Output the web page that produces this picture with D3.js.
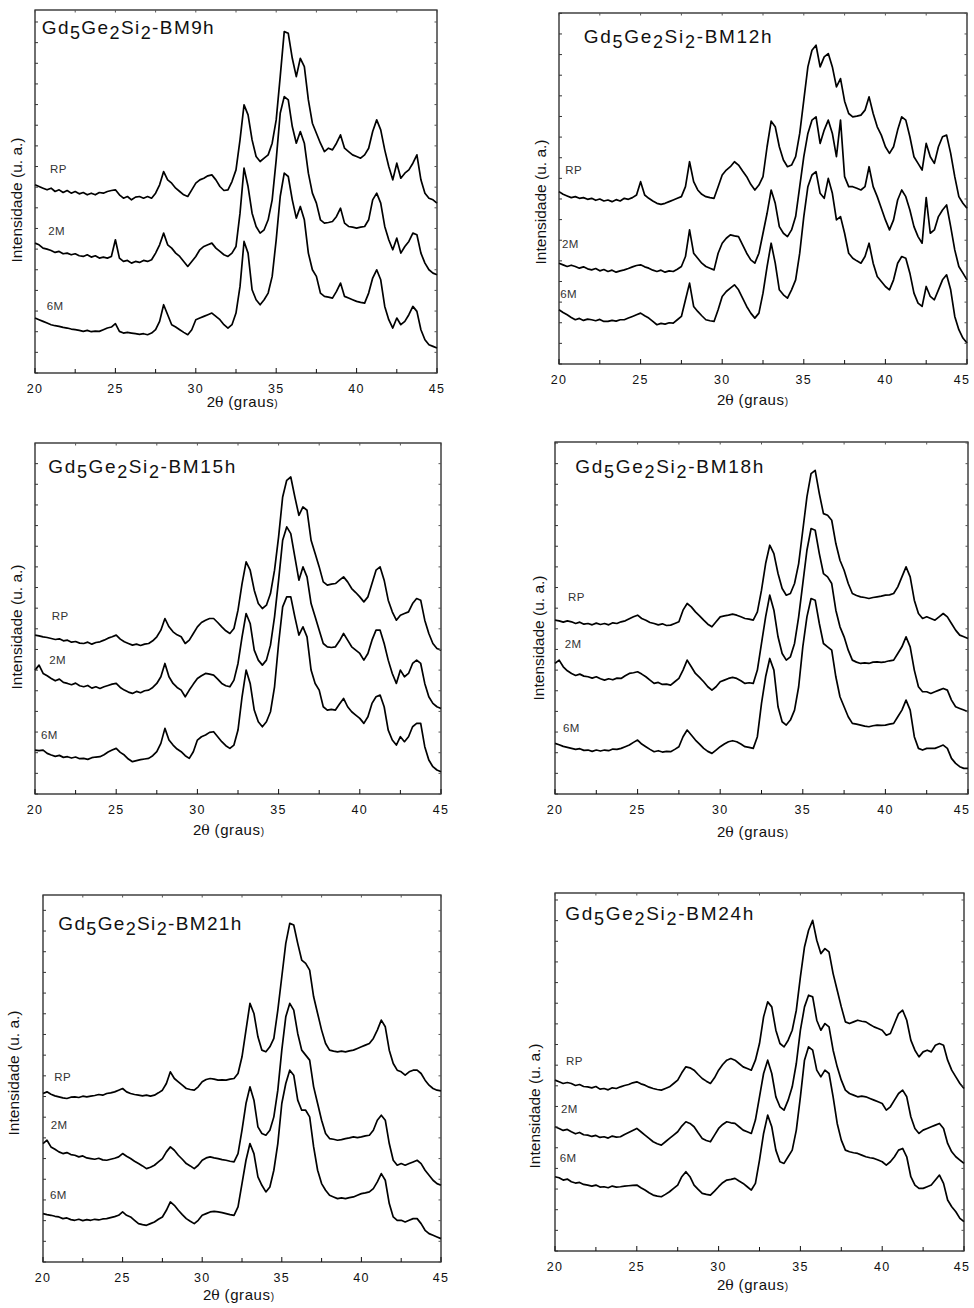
<!DOCTYPE html>
<html><head><meta charset="utf-8">
<script src="https://cdn.jsdelivr.net/npm/d3@7"></script>
<style>body{margin:0;background:#fff}svg{display:block}text{font-family:"Liberation Sans",Arial,sans-serif}</style>
</head><body>
<script>
const theta = [20,20.25,20.5,20.75,21,21.25,21.5,21.75,22,22.25,22.5,22.75,23,23.25,23.5,23.75,24,24.25,24.5,24.75,
25,25.25,25.5,25.75,26,26.25,26.5,26.75,27,27.25,27.5,27.75,28,28.25,28.5,28.75,29,29.25,29.5,29.75,
30,30.25,30.5,30.75,31,31.25,31.5,31.75,32,32.25,32.5,32.75,33,33.25,33.5,33.75,34,34.25,34.5,34.75,
35,35.25,35.5,35.75,36,36.25,36.5,36.75,37,37.25,37.5,37.75,38,38.25,38.5,38.75,39,39.25,39.5,39.75,
40,40.25,40.5,40.75,41,41.25,41.5,41.75,42,42.25,42.5,42.75,43,43.25,43.5,43.75,44,44.25,44.5,44.75,45];
const sampleNames = ["RP","2M","6M"];
const millingTimes = ["9h","12h","15h","18h","21h","24h"];
const yMaxCounts = [1090,1055,1054,1057,1100,1075];
const xTicks = [20,25,30,35,40,45];
const xMinorTicks = [20,22.5,25,27.5,30,32.5,35,37.5,40,42.5,45];

const bm9h_RP = [565,560,555,550,555,545,550,542,548,540,545,538,542,535,540,535,542,540,545,548,
550,535,525,530,520,528,530,525,530,525,540,565,605,580,570,555,545,535,530,550,
570,580,585,592,595,580,560,548,550,575,610,700,805,775,700,650,635,645,655,690,
760,890,1025,1020,945,890,945,920,820,750,720,690,665,675,670,690,715,675,665,655,
650,645,655,675,725,760,730,670,620,580,630,585,600,610,630,655,580,540,525,520,510];
const bm9h_2M = [390,385,375,372,368,362,365,358,360,355,358,352,350,355,348,352,345,348,345,350,
400,345,335,338,330,335,332,338,335,340,360,385,420,385,375,360,350,335,320,335,
350,370,380,385,390,375,365,355,350,360,380,480,615,560,480,440,420,430,460,520,
640,780,830,820,740,690,725,690,600,540,510,460,450,452,455,470,495,450,440,438,
435,438,440,460,520,540,510,440,400,370,405,360,380,395,420,415,360,330,310,300,295];
const bm9h_6M = [165,160,155,150,145,142,140,137,135,132,130,128,125,128,124,126,125,130,135,138,
148,125,120,122,120,118,116,118,115,120,130,155,205,175,145,138,130,122,115,130,
160,165,170,175,180,170,160,145,135,145,180,260,395,360,250,220,205,220,240,290,
400,530,600,590,520,465,500,460,360,310,290,240,230,228,225,245,270,230,225,220,
215,212,210,240,285,310,280,200,160,135,165,145,155,175,200,185,130,100,85,80,75];

const bm12h_RP = [518,510,505,500,503,498,500,495,498,492,496,490,493,488,494,490,498,495,500,508,
548,508,498,490,483,480,483,488,493,498,503,533,608,548,523,510,503,500,498,533,
568,583,593,608,598,580,563,540,523,538,563,653,730,713,653,613,593,598,623,693,
793,893,943,958,893,923,933,893,833,858,790,753,743,745,748,763,803,753,713,688,
653,633,653,703,743,733,683,623,603,583,663,623,603,653,683,688,633,563,503,483,468];
const bm12h_2M = [303,298,293,297,293,288,292,286,283,287,280,284,278,282,276,280,283,287,292,296,
298,292,288,282,278,282,276,280,278,285,293,323,403,333,318,303,293,288,283,333,
363,378,388,385,383,358,333,313,303,333,393,453,523,483,413,393,383,403,443,533,
623,693,733,743,663,703,733,693,623,733,563,533,533,528,523,533,593,533,503,468,
433,403,433,493,523,503,463,413,383,363,500,393,403,443,463,478,413,343,293,273,253];
const bm12h_6M = [163,155,148,140,133,137,131,135,133,130,134,128,128,131,129,133,133,138,143,148,
153,145,138,128,118,122,120,124,123,133,143,193,243,173,158,145,133,130,128,163,
203,218,228,238,223,198,173,153,138,153,213,293,363,303,223,208,198,223,253,333,
443,533,568,578,513,498,558,513,433,443,393,333,318,310,303,323,363,303,263,248,
233,223,253,303,323,318,273,213,183,173,233,203,193,223,253,268,223,143,103,78,63];

const bm15h_RP = [477,475,472,470,467,464,466,460,462,456,458,453,452,456,450,455,457,462,468,472,
477,465,457,452,447,450,446,450,452,460,472,492,527,502,487,478,472,452,462,482,
502,515,522,527,527,515,502,490,482,497,552,632,697,672,612,572,557,567,602,672,
772,892,942,952,892,837,862,852,762,722,682,637,627,630,632,642,652,637,617,605,
592,577,592,632,672,682,642,582,547,522,537,542,547,572,587,582,522,482,452,437,432];
const bm15h_2M = [372,387,362,355,347,340,345,335,332,328,333,325,322,326,318,322,317,322,326,330,
332,320,312,306,302,308,304,310,312,320,332,352,392,352,332,320,312,292,312,330,
347,355,362,360,357,345,332,325,322,342,392,472,542,512,432,402,387,402,447,532,
642,762,802,782,712,642,682,652,572,532,492,452,442,440,442,460,482,462,442,432,
422,402,422,462,492,492,452,402,362,332,372,352,362,392,402,392,332,292,272,262,257];
const bm15h_6M = [132,130,132,122,117,113,116,110,112,108,111,106,107,104,109,111,112,118,126,132,
137,125,117,105,97,100,103,105,107,115,127,152,197,162,147,135,127,115,107,127,
162,172,177,185,187,172,157,145,137,147,192,292,372,332,252,217,202,217,247,322,
452,562,592,592,532,477,502,472,372,332,312,262,252,254,252,270,287,262,247,237,
227,212,232,272,292,297,262,192,162,147,172,157,172,202,212,212,142,102,82,72,67];

const bm18h_RP = [522,520,516,520,517,512,516,510,512,508,513,509,512,508,514,512,517,520,526,532,
537,527,522,515,512,508,511,506,507,512,517,552,572,562,547,535,522,510,502,517,
532,535,537,540,537,532,527,525,522,547,612,692,747,722,662,617,597,602,632,692,
792,892,962,972,902,842,837,822,752,702,672,632,602,596,592,590,587,590,592,594,
597,598,602,622,652,682,652,582,542,527,532,527,522,532,542,532,512,492,477,472,467];
const bm18h_2M = [392,402,382,370,362,356,360,354,352,348,352,346,342,346,343,348,347,355,362,364,
367,360,352,342,332,335,329,330,327,337,347,372,402,382,362,350,337,322,312,322,
337,342,347,350,347,340,332,334,332,372,452,532,597,552,472,422,402,412,452,532,
632,732,797,792,722,662,652,632,552,502,472,432,402,396,392,394,392,396,397,395,
397,400,402,422,442,472,442,372,322,307,307,302,307,312,317,312,282,262,257,252,247];
const bm18h_6M = [152,148,143,140,137,134,136,131,132,128,132,129,132,130,135,134,137,142,147,155,
162,150,142,134,127,130,126,128,127,134,142,172,192,177,162,150,137,128,122,132,
142,150,157,160,157,150,142,140,137,172,272,352,407,372,262,217,207,222,252,322,
442,532,587,582,512,452,442,432,352,292,262,232,212,210,207,204,202,205,207,206,
207,210,212,232,252,282,252,172,137,132,137,137,137,142,147,137,107,92,82,77,77];

const bm21h_RP = [505,510,503,498,495,492,490,494,495,493,497,495,497,499,502,500,505,507,510,515,
520,510,505,502,500,498,500,497,500,507,515,535,570,550,540,530,520,517,515,525,
540,547,550,548,545,546,545,548,550,565,615,695,775,745,675,635,630,645,670,755,
855,955,1015,1010,955,905,895,875,795,745,695,655,635,632,630,632,630,633,635,640,
645,650,655,670,695,725,705,635,595,575,570,560,570,575,575,565,545,530,520,515,513];
const bm21h_2M = [355,365,345,338,330,325,328,322,320,315,318,312,310,308,311,306,305,308,311,315,
325,317,310,302,295,288,280,284,290,300,310,330,345,335,320,308,295,288,280,290,
305,312,315,312,310,307,305,302,300,325,395,475,525,485,405,385,380,395,435,515,
635,735,775,755,685,635,620,605,525,475,425,385,370,368,365,367,370,372,375,373,
375,378,380,395,425,440,425,355,305,290,295,290,295,300,305,295,275,260,245,235,230];
const bm21h_6M = [145,142,140,137,135,130,132,127,125,128,124,127,125,128,126,129,130,133,136,140,
150,140,135,125,115,112,110,115,120,128,135,155,180,170,155,142,130,122,115,125,
140,145,150,152,150,148,145,142,140,165,235,305,355,325,255,230,210,225,275,355,
475,535,575,560,485,455,455,435,345,275,235,215,200,195,190,192,190,193,195,200,
205,207,210,220,240,265,245,175,135,125,125,120,125,130,130,115,95,85,80,75,70];

const bm24h_RP = [513,508,503,506,503,497,500,494,493,490,494,486,488,484,490,488,493,497,500,505,
508,502,498,492,488,485,483,488,493,503,513,535,553,550,543,530,518,510,503,520,
543,560,573,578,573,563,553,548,543,573,623,703,748,733,663,623,613,633,663,723,
823,913,963,993,933,893,908,898,833,783,733,688,683,688,693,690,688,680,673,668,
663,648,653,683,713,723,693,633,603,583,598,603,598,618,623,618,573,543,523,503,488];
const bm24h_2M = [373,368,362,365,358,352,356,349,348,344,347,341,343,339,345,342,343,350,356,362,
368,358,348,338,328,322,318,328,338,348,358,375,388,383,373,355,338,332,328,348,
368,380,388,385,383,373,363,358,353,393,463,533,573,533,463,433,423,453,493,563,
663,733,768,763,693,663,683,673,603,553,513,483,473,468,463,465,463,458,453,448,
443,423,433,453,473,483,463,403,368,353,363,368,373,378,383,368,323,298,283,273,263];
const bm24h_6M = [223,220,213,216,208,204,206,200,198,195,198,192,193,190,195,192,193,195,196,197,
198,190,183,175,168,165,163,170,178,188,198,223,238,223,198,185,173,170,168,180,
193,205,213,215,218,210,203,193,183,203,273,353,408,373,303,268,263,283,303,363,
463,573,613,603,543,523,543,533,463,383,333,303,298,295,293,288,283,280,278,273,
268,258,268,283,303,308,283,223,198,188,188,193,198,213,228,203,153,133,118,98,88];

const seriesByPanel = [
  [bm9h_RP, bm9h_2M, bm9h_6M],
  [bm12h_RP, bm12h_2M, bm12h_6M],
  [bm15h_RP, bm15h_2M, bm15h_6M],
  [bm18h_RP, bm18h_2M, bm18h_6M],
  [bm21h_RP, bm21h_2M, bm21h_6M],
  [bm24h_RP, bm24h_2M, bm24h_6M]
];

// layout (pixels)
const frames = [
  {l:35,  r:437, t:10,  b:373,  tx:41.7,  ty:34.3,  tw:172, yl:[17,200],   xl:[206.7,407],  lab:[[50,173],[48.3,235],[46.7,310]]},
  {l:559, r:967, t:13,  b:364,  tx:583.7, ty:43.3,  tw:188, yl:[541,202],  xl:[717,405],    lab:[[565.3,174],[562,248],[560.3,297.7]]},
  {l:35,  r:441, t:443, b:794,  tx:48.3,  ty:472.7, tw:187, yl:[17,627],   xl:[193,835],    lab:[[51.7,620],[49.3,664.3],[41,739.3]]},
  {l:555, r:968, t:442, b:794,  tx:575.3, ty:473.3, tw:188, yl:[539,638],  xl:[717,837],    lab:[[568,600.7],[564.7,648.3],[563,731.7]]},
  {l:43,  r:441, t:895, b:1262, tx:58.3,  ty:930,   tw:183, yl:[14,1073],  xl:[203,1300],   lab:[[54.3,1080.7],[50.7,1129.3],[50,1199.3]]},
  {l:555, r:964, t:893, b:1251, tx:565.3, ty:920,   tw:188, yl:[535,1106], xl:[717,1290],   lab:[[566,1065],[561,1112.7],[559.7,1162.3]]}
];

const svg = d3.select("body").append("svg").attr("width",974).attr("height",1308);

frames.forEach((f,i) => {
  const x = d3.scaleLinear().domain([20,45]).range([f.l,f.r]);
  const y = d3.scaleLinear().domain([0,yMaxCounts[i]]).range([f.b,f.t]);
  const g = svg.append("g");

  // curves
  const line = d3.line().x((d,j)=>x(theta[j])).y(d=>y(d));
  seriesByPanel[i].forEach(s => {
    g.append("path").attr("d", line(s)).attr("fill","none")
      .attr("stroke","#000").attr("stroke-width",1.7).attr("stroke-linejoin","round");
  });

  // frame
  g.append("rect").attr("x",f.l).attr("y",f.t).attr("width",f.r-f.l).attr("height",f.b-f.t)
    .attr("fill","none").attr("stroke","#111").attr("stroke-width",1.2);

  // x ticks bottom + top
  xMinorTicks.forEach(t => {
    const major = xTicks.includes(t);
    g.append("line").attr("x1",x(t)).attr("x2",x(t)).attr("y1",f.b).attr("y2",f.b-(major?5:4))
      .attr("stroke","#111").attr("stroke-width",1);
    g.append("line").attr("x1",x(t)).attr("x2",x(t)).attr("y1",f.t).attr("y2",f.t+2.5)
      .attr("stroke","#555").attr("stroke-width",1);
  });
  xTicks.forEach(t => {
    g.append("text").attr("x",Math.min(x(t),962)).attr("y",f.b+20).attr("text-anchor","middle")
      .attr("font-size",12.5).attr("letter-spacing",1.3).attr("fill","#111").text(t);
  });

  // y ticks left/right (unlabelled)
  d3.range(0, yMaxCounts[i], 62).forEach(v => {
    g.append("line").attr("x1",f.l).attr("x2",f.l+3).attr("y1",y(v)).attr("y2",y(v))
      .attr("stroke","#333").attr("stroke-width",1);
    g.append("line").attr("x1",f.r).attr("x2",f.r-2.5).attr("y1",y(v)).attr("y2",y(v))
      .attr("stroke","#555").attr("stroke-width",1);
  });

  // x label
  const xl = g.append("text").attr("x",f.xl[0]).attr("y",f.xl[1])
    .attr("font-size",15).attr("fill","#111");
  xl.append("tspan").text("2");
  xl.append("tspan").attr("font-family","'DejaVu Serif','Liberation Serif',serif").attr("font-size",14).text("θ");
  xl.append("tspan").attr("letter-spacing",0.6).text(" (graus");
  xl.append("tspan").attr("font-size",10).text(")");

  // y label
  g.append("text").attr("transform",`translate(${f.yl[0]},${f.yl[1]}) rotate(-90)`)
    .attr("text-anchor","middle").attr("dy","0.35em").attr("font-size",15.5).attr("fill","#111")
    .text("Intensidade (u. a.)");

  // title
  const parts = [["Gd",0],["5",1],["Ge",0],["2",1],["Si",0],["2",1],["-BM"+millingTimes[i],0]];
  const tt = g.append("text").attr("x",f.tx).attr("y",f.ty).attr("font-size",19).attr("fill","#111")
    .attr("textLength",f.tw).attr("lengthAdjust","spacing");
  let prev = 0;
  parts.forEach(([s,sub]) => {
    const dy = sub ? 5 : (prev ? -5 : 0);
    tt.append("tspan").attr("dy",dy).attr("font-size",sub?18:19).text(s);
    prev = sub;
  });

  // sample labels
  sampleNames.forEach((n,k) => {
    g.append("text").attr("x",f.lab[k][0]).attr("y",f.lab[k][1]).attr("font-size",11.5)
      .attr("fill","#333").attr("letter-spacing",0.4).text(n);
  });
});
</script>
</body></html>
